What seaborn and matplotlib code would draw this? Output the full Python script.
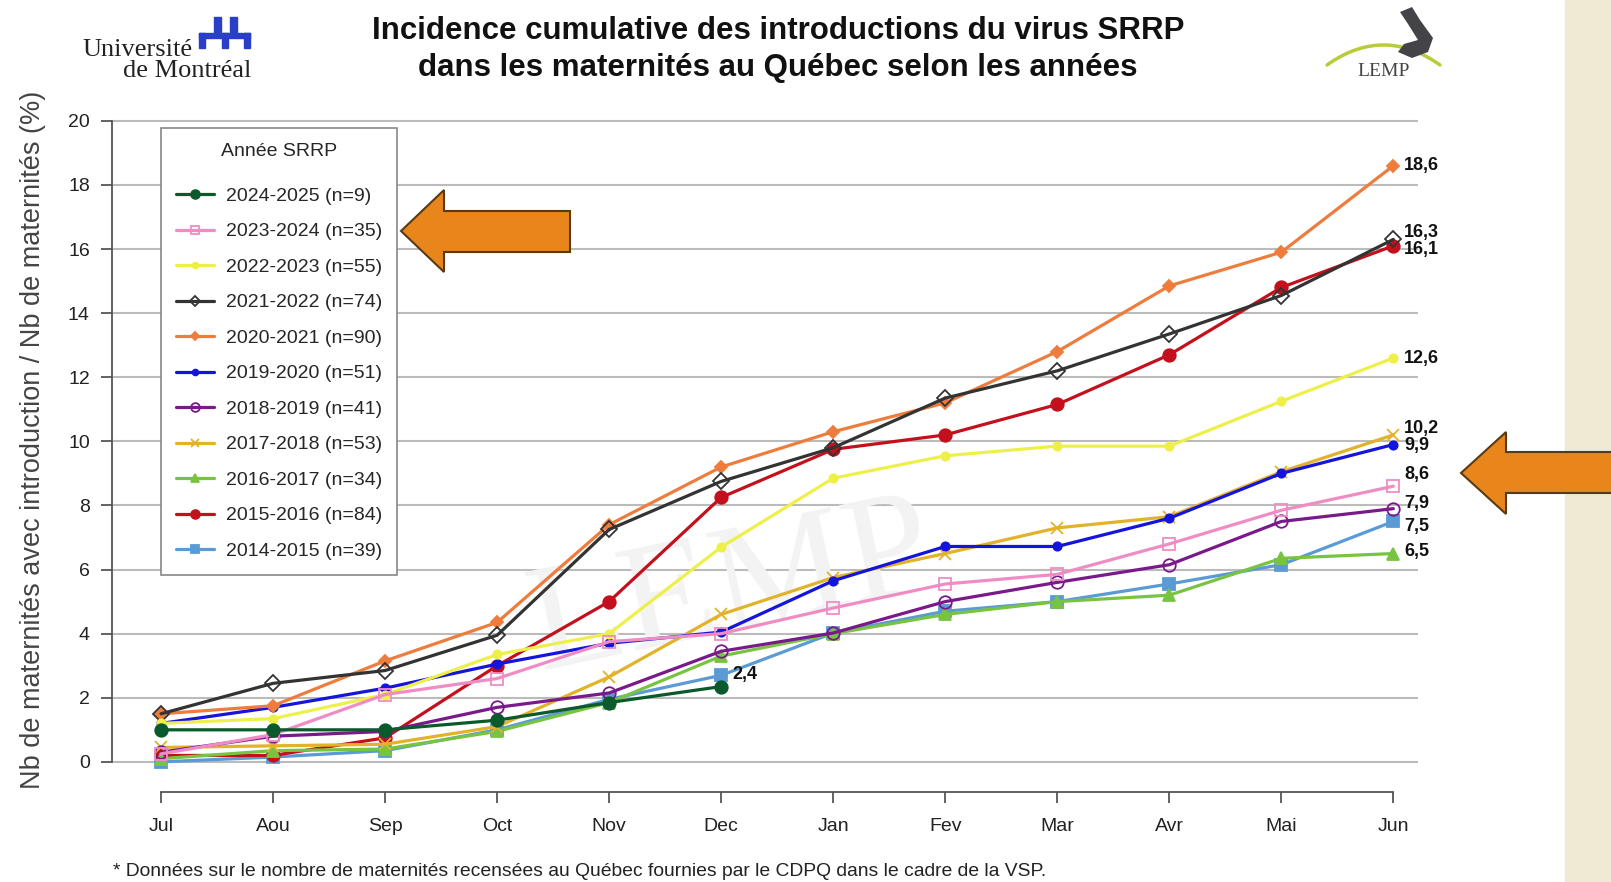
import numpy as np
import pandas as pd
import matplotlib
matplotlib.use("Agg")
import matplotlib.pyplot as plt
from matplotlib.patches import Polygon, Rectangle
import seaborn as sns

months = ['Jul', 'Aou', 'Sep', 'Oct', 'Nov', 'Dec', 'Jan', 'Fev', 'Mar', 'Avr', 'Mai', 'Jun']

labels = ['2024-2025 (n=9)', '2023-2024 (n=35)', '2022-2023 (n=55)', '2021-2022 (n=74)',
          '2020-2021 (n=90)', '2019-2020 (n=51)', '2018-2019 (n=41)', '2017-2018 (n=53)',
          '2016-2017 (n=34)', '2015-2016 (n=84)', '2014-2015 (n=39)']

s2024 = [1.0, 1.0, 1.0, 1.3, 1.85, 2.35]
s2023 = [0.25, 0.85, 2.1, 2.6, 3.75, 4.0, 4.8, 5.55, 5.85, 6.8, 7.85, 8.6]
s2022 = [1.2, 1.35, 2.1, 3.35, 4.0, 6.7, 8.85, 9.55, 9.85, 9.85, 11.25, 12.6]
s2021 = [1.5, 2.45, 2.85, 3.95, 7.25, 8.75, 9.8, 11.35, 12.2, 13.35, 14.55, 16.3]
s2020 = [1.5, 1.75, 3.15, 4.35, 7.4, 9.2, 10.3, 11.2, 12.8, 14.85, 15.9, 18.6]
s2019 = [1.2, 1.7, 2.3, 3.05, 3.7, 4.05, 5.65, 6.72, 6.72, 7.6, 9.0, 9.9]
s2018 = [0.3, 0.8, 0.95, 1.7, 2.15, 3.45, 4.02, 5.0, 5.6, 6.15, 7.5, 7.9]
s2017 = [0.45, 0.5, 0.55, 1.1, 2.65, 4.6, 5.75, 6.5, 7.3, 7.65, 9.05, 10.2]
s2016 = [0.1, 0.35, 0.4, 0.95, 1.85, 3.3, 4.0, 4.6, 5.0, 5.2, 6.35, 6.5]
s2015 = [0.2, 0.2, 0.75, 3.0, 5.0, 8.25, 9.75, 10.2, 11.15, 12.7, 14.8, 16.1]
s2014 = [0.0, 0.15, 0.35, 1.0, 1.95, 2.7, 4.02, 4.7, 5.0, 5.55, 6.15, 7.5]

series = [s2024, s2023, s2022, s2021, s2020, s2019, s2018, s2017, s2016, s2015, s2014]

# final value labels (text shown at the end of each line)
end_text = ['2,4', '8,6', '12,6', '16,3', '18,6', '9,9', '7,9', '10,2', '6,5', '16,1', '7,5']

colors = ['#0b5a2c', '#f08cc4', '#eef04a', '#333333', '#ee7c3c', '#1414dc',
          '#7a1a8a', '#e2b22a', '#78c442', '#c4101c', '#5b9bd5']
markers = ['o', 's', 'o', 'D', 'D', 'o', 'o', 'x', '^', 'o', 's']
msizes = [9, 9, 6, 8, 6, 6, 9, 8, 9, 9, 8]
filled = [True, False, True, False, True, True, False, True, True, True, True]
# vertical nudge of end labels, in pixels
nudge = [12, 12, 0, 7, 0, -1, 5, 6, 2, -4, -5]

sns.set_style("white")
plt.rcParams['font.family'] = ['Liberation Sans', 'DejaVu Sans']

W, H = 1611, 882
fig = plt.figure(figsize=(W / 100, H / 100), dpi=100)
ax = fig.add_axes([112 / W, 1 - 792 / H, 1306 / W, 684 / H])

for i in range(len(series)):
    vals = series[i]
    df = pd.DataFrame({'x': np.arange(len(vals)), 'y': vals})
    mfc = colors[i] if filled[i] else 'none'
    sns.lineplot(data=df, x='x', y='y', ax=ax, color=colors[i], lw=2.3,
                 marker=markers[i], markersize=msizes[i], mfc=mfc,
                 mec=colors[i], mew=1.3, label=labels[i], zorder=3 + (len(series) - i) * 0.1)
    ax.annotate(end_text[i], (len(vals) - 1, vals[-1]), xytext=(11, nudge[i]),
                textcoords='offset pixels', fontsize=13, fontweight='bold',
                va='center', ha='left', color='#111111', zorder=10)

ax.set_xlim(-0.4375, 11.22)
ax.set_ylim(-0.94, 20.4)
ax.set_xticks(range(12))
ax.set_xticklabels(months)
ax.set_yticks(range(0, 21, 2))
ax.set_xlabel('')
ax.set_ylabel('')
ax.yaxis.grid(True, color='#bbbbbb', lw=1.5, zorder=0)
ax.xaxis.grid(False)
for side in ['top', 'right']:
    ax.spines[side].set_visible(False)
ax.spines['left'].set_bounds(0, 20)
ax.spines['bottom'].set_bounds(0, 11)
for side in ['left', 'bottom']:
    ax.spines[side].set_color('#555555')
    ax.spines[side].set_linewidth(1.3)
ax.tick_params(axis='both', which='major', direction='out', length=8, width=1.3,
               color='#555555', labelsize=14, labelcolor='#222222',
               left=True, bottom=True)
ax.tick_params(axis='x', pad=11)
ax.tick_params(axis='y', pad=8)
ax.set_facecolor('white')

# watermark
ax.text(5.1, 5.3, 'LEMP', fontsize=110, family='Liberation Serif', color='#f3f3f3',
        rotation=12, ha='center', va='center', zorder=1)

leg = ax.legend(loc='upper left', bbox_to_anchor=(161 / W, 1 - 128 / H),
                bbox_transform=fig.transFigure, borderaxespad=0, title='Année SRRP',
                fontsize=14, title_fontsize=14, frameon=True, fancybox=False,
                edgecolor='#888888', framealpha=1, labelspacing=0.92,
                handlelength=2.0, handletextpad=0.6, borderpad=0.75, markerscale=0.7)
leg.get_frame().set_linewidth(1.2)
leg._legend_box.sep = 20

fig.text(33 / W, 1 - 440 / H, 'Nb de maternités avec introduction / Nb de maternités (%)',
         rotation=90, ha='center', va='center', fontsize=19.5, color='#444444')

fig.text(778 / W, 1 - 31 / H, 'Incidence cumulative des introductions du virus SRRP',
         ha='center', va='center', fontsize=22.5, fontweight='bold', color='#111111')
fig.text(778 / W, 1 - 68 / H, 'dans les maternités au Québec selon les années',
         ha='center', va='center', fontsize=22.5, fontweight='bold', color='#111111')

fig.text(113 / W, 1 - 871 / H,
         '* Données sur le nombre de maternités recensées au Québec fournies par le CDPQ dans le cadre de la VSP.',
         ha='left', va='center', fontsize=13.9, color='#222222')

# Université de Montréal logo
fig.text(193 / W, 1 - 50 / H, 'Université', family='Liberation Serif', fontsize=19,
         ha='right', va='center', color='#222222')
fig.text(251 / W, 1 - 71 / H, 'de Montréal', family='Liberation Serif', fontsize=19,
         ha='right', va='center', color='#222222')


def px_rect(x0, y0, x1, y1, color):
    fig.patches.append(Rectangle((x0 / W, 1 - y1 / H), (x1 - x0) / W, (y1 - y0) / H,
                                 transform=fig.transFigure, color=color, zorder=5))


blue = '#2a3fc8'
px_rect(214, 17, 221, 34, blue)
px_rect(230, 17, 237, 34, blue)
px_rect(199, 33, 250, 38, blue)
px_rect(199, 33, 205, 48, blue)
px_rect(222, 33, 228, 48, blue)
px_rect(244, 33, 250, 48, blue)


def px_poly(pts, **kw):
    fig.patches.append(Polygon([(x / W, 1 - y / H) for x, y in pts],
                               transform=fig.transFigure, **kw))


# LEMP logo
px_poly([(1400, 12), (1412, 7), (1420, 20), (1433, 38), (1428, 52), (1412, 58),
         (1398, 52), (1404, 44), (1418, 40), (1408, 24)], closed=True,
        facecolor='#444448', edgecolor='none', zorder=5)
t = np.linspace(0, 1, 40)
arc_x = 1327 + 113 * t
arc_y = 65 - 80 * t * (1 - t)
fig.lines.append(plt.Line2D(arc_x / W, 1 - arc_y / H, transform=fig.transFigure,
                            color='#b8cc3a', lw=2.5, zorder=4))
fig.text(1384 / W, 1 - 71 / H, 'LEMP', family='Liberation Serif', fontsize=14,
         ha='center', va='center', color='#444444', zorder=6)

# beige side panel
px_rect(1565, 0, 1611, 882, '#eeead4')

# orange arrows
arrow_kw = dict(closed=True, facecolor='#e8861c', edgecolor='#5a3a14', lw=1.5, zorder=20)
px_poly([(401, 231), (444, 190), (444, 211), (570, 211), (570, 252), (444, 252), (444, 272)],
        **arrow_kw)
px_poly([(1461, 473), (1506, 432), (1506, 452), (1625, 452), (1625, 493), (1506, 493),
         (1506, 514)], **arrow_kw)

fig.savefig('out.png', dpi=100)
